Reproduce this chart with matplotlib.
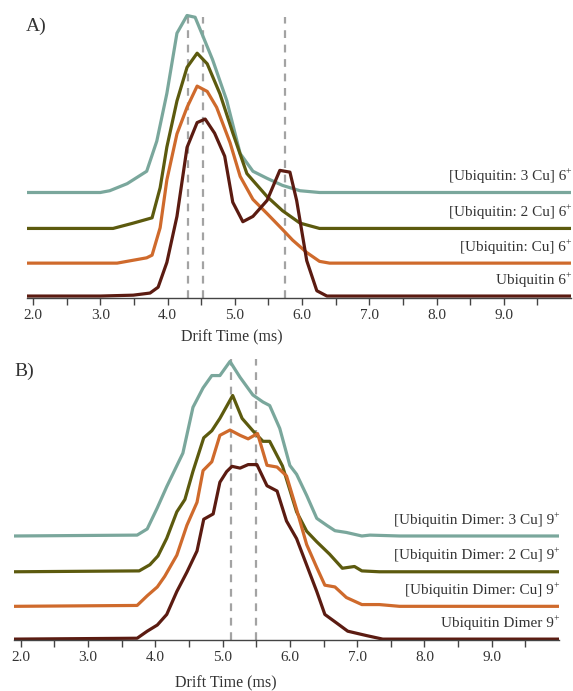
import matplotlib
matplotlib.use("Agg")
import matplotlib.pyplot as plt
from matplotlib.ticker import FuncFormatter

plt.rcParams['font.family'] = ['Liberation Serif', 'DejaVu Serif']

# --- data (normalised intensity, peak = 1) ---
# Panel A: ubiquitin 6+
a_teal_x = [1.91, 3.0, 3.14, 3.40, 3.69, 3.84, 3.99, 4.14, 4.29, 4.41, 4.53, 4.67, 4.88, 5.08, 5.27, 5.48, 5.71, 5.97, 6.26, 10.0]
a_teal_y = [0, 0, 0.01, 0.05, 0.12, 0.29, 0.56, 0.90, 1.0, 0.99, 0.88, 0.75, 0.52, 0.22, 0.12, 0.08, 0.04, 0.01, 0, 0]

a_olive_x = [1.91, 3.19, 3.49, 3.63, 3.77, 3.89, 3.99, 4.14, 4.29, 4.44, 4.59, 4.78, 4.97, 5.18, 5.48, 5.71, 5.97, 6.26, 10.0]
a_olive_y = [0, 0, 0.03, 0.045, 0.06, 0.23, 0.46, 0.72, 0.91, 0.99, 0.93, 0.76, 0.54, 0.31, 0.18, 0.10, 0.03, 0, 0]

a_orange_x = [1.91, 3.25, 3.69, 3.77, 3.89, 3.99, 4.14, 4.29, 4.44, 4.59, 4.73, 4.93, 5.08, 5.27, 5.48, 5.71, 5.86, 6.07, 6.26, 6.41, 10.0]
a_orange_y = [0, 0, 0.03, 0.045, 0.20, 0.47, 0.73, 0.88, 1.0, 0.97, 0.88, 0.68, 0.49, 0.36, 0.28, 0.19, 0.13, 0.06, 0.01, 0, 0]

a_brown_x = [1.91, 3.0, 3.49, 3.74, 3.86, 3.99, 4.14, 4.29, 4.44, 4.56, 4.70, 4.85, 4.97, 5.12, 5.27, 5.48, 5.67, 5.82, 5.92, 6.07, 6.22, 6.37, 10.0]
a_brown_y = [0, 0, 0.005, 0.017, 0.05, 0.19, 0.45, 0.84, 0.98, 1.0, 0.92, 0.79, 0.53, 0.42, 0.45, 0.54, 0.71, 0.70, 0.54, 0.20, 0.03, 0, 0]

# Panel B: ubiquitin dimer 9+
b_teal_x = [1.9, 3.73, 3.88, 4.03, 4.17, 4.41, 4.56, 4.71, 4.84, 4.96, 5.11, 5.26, 5.45, 5.60, 5.70, 5.85, 6.0, 6.10, 6.25, 6.40, 6.55, 6.67, 6.84, 7.07, 7.19, 7.63, 10.0]
b_teal_y = [0, 0.005, 0.04, 0.16, 0.28, 0.47, 0.73, 0.84, 0.91, 0.91, 0.99, 0.90, 0.80, 0.76, 0.74, 0.61, 0.40, 0.35, 0.23, 0.10, 0.06, 0.03, 0.02, 0, 0.005, 0, 0]

b_olive_x = [1.9, 3.76, 3.92, 4.04, 4.17, 4.32, 4.44, 4.56, 4.72, 4.84, 4.96, 5.15, 5.29, 5.45, 5.60, 5.70, 5.89, 6.10, 6.25, 6.40, 6.59, 6.78, 6.96, 7.07, 7.33, 10.0]
b_olive_y = [0, 0.005, 0.04, 0.09, 0.19, 0.34, 0.41, 0.57, 0.76, 0.80, 0.87, 1.0, 0.87, 0.80, 0.74, 0.74, 0.60, 0.34, 0.23, 0.17, 0.10, 0.02, 0.03, 0.005, 0, 0]

b_orange_x = [1.9, 3.73, 3.88, 4.03, 4.14, 4.32, 4.47, 4.62, 4.71, 4.84, 4.96, 5.11, 5.26, 5.38, 5.52, 5.66, 5.81, 5.95, 6.10, 6.25, 6.40, 6.52, 6.67, 6.84, 7.07, 7.33, 7.63, 10.0]
b_orange_y = [0, 0.005, 0.06, 0.11, 0.17, 0.29, 0.46, 0.59, 0.77, 0.82, 0.97, 1.0, 0.97, 0.95, 0.98, 0.80, 0.79, 0.74, 0.55, 0.35, 0.22, 0.12, 0.11, 0.05, 0.01, 0.01, 0, 0]

b_brown_x = [1.9, 3.73, 3.88, 4.03, 4.17, 4.32, 4.47, 4.62, 4.72, 4.86, 4.96, 5.06, 5.14, 5.26, 5.38, 5.51, 5.66, 5.81, 5.95, 6.10, 6.25, 6.40, 6.52, 6.70, 6.86, 7.14, 7.38, 10.0]
b_brown_y = [0, 0.005, 0.045, 0.08, 0.14, 0.27, 0.38, 0.50, 0.68, 0.71, 0.89, 0.95, 0.98, 0.97, 0.99, 0.99, 0.87, 0.84, 0.67, 0.57, 0.42, 0.27, 0.14, 0.09, 0.045, 0.02, 0, 0]

offsets = [0.585, 0.382, 0.186, 0.0]
colors = ['#7aa79c', '#5c5a0e', '#cf6a2c', '#5b1b11']

a_labels = ['[Ubiquitin: 3 Cu] 6', '[Ubiquitin: 2 Cu] 6', '[Ubiquitin: Cu] 6', 'Ubiquitin 6']
b_labels = ['[Ubiquitin Dimer: 3 Cu] 9', '[Ubiquitin Dimer: 2 Cu] 9',
            '[Ubiquitin Dimer: Cu] 9', 'Ubiquitin Dimer 9']

a_dashes = [4.30, 4.53, 5.74]
b_dashes = [5.12, 5.49]

W, H = 573, 691
fig = plt.figure(figsize=(W / 100, H / 100), dpi=100)


def make_axes(left, right, top, bottom):
    return fig.add_axes([left / W, 1 - bottom / H, (right - left) / W, (bottom - top) / H])


def draw_panel(ax, traces, labels, dashes, xlim, ylim, dash_top):
    ax.set_xlim(*xlim)
    ax.set_ylim(*ylim)
    ax.vlines(dashes, ylim[0], dash_top, colors='#a3a3a3', linestyles=(0, (3.5, 3)), linewidth=1.6, zorder=1)
    for (xs, ys), off, c in zip(traces, offsets, colors):
        ax.plot(xs, [y + off for y in ys], color=c, linewidth=2.3, zorder=2)
    for lab, off in zip(labels, offsets):
        # small superscript "+" after the charge state
        ax.annotate('+', xy=(xlim[1], off + 0.09), xycoords='data', ha='right', va='center',
                    fontsize=7, color='#333333', xytext=(0, 3.5), textcoords='offset points')
        ax.annotate(lab, xy=(xlim[1], off + 0.09), xycoords='data', ha='right', va='center',
                    fontsize=11, color='#333333', xytext=(-3.6, 0), textcoords='offset points')
    for s in ['top', 'right', 'left']:
        ax.spines[s].set_visible(False)
    ax.spines['bottom'].set_color('#444444')
    ax.spines['bottom'].set_linewidth(1.0)
    ax.set_yticks([])
    ax.set_xticks([2.0 + 0.5 * i for i in range(16)])
    ax.xaxis.set_major_formatter(FuncFormatter(lambda v, p: f"{v:.1f}" if abs(v - round(v)) < 1e-6 else ""))
    ax.tick_params(axis='x', length=5, width=1.0, color='#444444', labelsize=11, labelcolor='#333333', pad=3)
    ax.patch.set_alpha(0)


ax_a = make_axes(27, 571, 10, 298)
draw_panel(ax_a,
           [(a_teal_x, a_teal_y), (a_olive_x, a_olive_y), (a_orange_x, a_orange_y), (a_brown_x, a_brown_y)],
           a_labels, a_dashes, (1.91, 10.0), (-0.011, 1.616), 1.576)

ax_b = make_axes(14, 559, 350, 640)
draw_panel(ax_b,
           [(b_teal_x, b_teal_y), (b_olive_x, b_olive_y), (b_orange_x, b_orange_y), (b_brown_x, b_brown_y)],
           b_labels, b_dashes, (1.9, 10.0), (-0.005, 1.64), 1.59)

fig.text(26 / W, 1 - 18 / H, 'A)', fontsize=14, ha='left', va='top', color='#333333')
fig.text(14 / W, 1 - 363 / H, 'B)', fontsize=14, ha='left', va='top', color='#333333')
fig.text(232 / W, 1 - 337 / H, 'Drift Time (ms)', fontsize=11.5, ha='center', va='center', color='#333333')
fig.text(226 / W, 1 - 683 / H, 'Drift Time (ms)', fontsize=11.5, ha='center', va='center', color='#333333')

fig.savefig('out.png', dpi=100, facecolor='white')
